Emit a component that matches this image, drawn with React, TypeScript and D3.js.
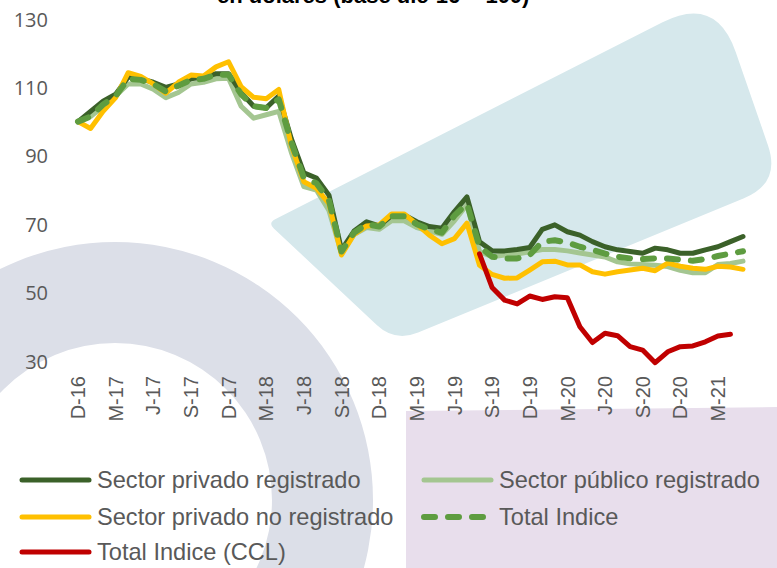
import React from "react";
import * as d3 from "d3";

const categories = [
  "dic-16","ene-17","feb-17","mar-17","abr-17","may-17","jun-17","jul-17","ago-17","sep-17","oct-17","nov-17",
  "dic-17","ene-18","feb-18","mar-18","abr-18","may-18","jun-18","jul-18","ago-18","sep-18","oct-18","nov-18",
  "dic-18","ene-19","feb-19","mar-19","abr-19","may-19","jun-19","jul-19","ago-19","sep-19","oct-19","nov-19",
  "dic-19","ene-20","feb-20","mar-20","abr-20","may-20","jun-20","jul-20","ago-20","sep-20","oct-20","nov-20",
  "dic-20","ene-21","feb-21","mar-21","abr-21","may-21"
];

const tickLabels = ["D-16","M-17","J-17","S-17","D-17","M-18","J-18","S-18","D-18","M-19","J-19","S-19","D-19","M-20","J-20","S-20","D-20","M-21"];
const yTicks = [30, 50, 70, 90, 110, 130];

const privadoRegistrado = [
  100, 103, 106, 108, 113, 112.5, 111.5, 110, 111, 112.5, 113, 114,
  114, 108.5, 104.5, 104, 107.5, 95, 85, 83.5, 78.5, 62.5, 68, 70.7,
  69.5, 72.5, 72.7, 70.7, 69.3, 68.8, 73.7, 78, 64.9, 62.2, 62.2, 62.6,
  63.2, 68.5, 69.8, 67.8, 66.8, 64.9, 63.4, 62.5, 62, 61.5, 63, 62.5,
  61.5, 61.5, 62.5, 63.4, 64.9, 66.4
];

const publicoRegistrado = [
  100, 101.5, 104.5, 107.5, 111, 111, 109.5, 107, 108.5, 111, 111.5, 112.5,
  112.7, 104.5, 101, 102, 103, 91, 81, 80, 74, 61.5, 67, 69,
  68.5, 71, 71, 69, 68, 67, 71, 75.7, 62, 60.5, 61, 61.3,
  61.9, 62.6, 62.6, 62.2, 61.6, 61, 60.4, 59, 58.4, 58.2, 58, 57.6,
  56.5, 55.8, 55.8, 58.2, 58.5, 59.2
];

const privadoNoRegistrado = [
  100, 98, 103, 107, 114.3, 113.2, 111, 108.3, 111.5, 113.6, 113.3, 116,
  117.5, 110.2, 107.1, 106.7, 109.4, 93, 82.4, 80.5, 76, 61, 67, 69.5,
  69.8, 73, 73, 70, 66.8, 64.3, 65.8, 70.3, 58, 55.3, 54.2, 54.3,
  56.6, 59, 59.2, 58.1, 58.1, 56.1, 55.4, 56.1, 56.6, 57.1, 56.4, 58.6,
  57.7, 57.1, 56.8, 57.7, 57.5, 56.8
];

const totalIndice = [
  100, 101.5, 105, 107.5, 112.5, 112.2, 111, 108.8, 110.5, 112.2, 112.5, 113.7,
  113.7, 108, 104.5, 104, 106.5, 94, 83.5, 82, 77, 62, 67.5, 70,
  69.3, 72.3, 72.3, 70, 68.5, 67.5, 72.5, 76, 63.4, 60.5, 60, 60,
  61, 64.9, 65.3, 64.6, 63.4, 62.5, 61.4, 60.5, 60, 59.8, 60, 60,
  59.6, 59.3, 59.8, 60.7, 61.4, 62.1
];

const totalCCL: (number | null)[] = [
  null, null, null, null, null, null, null, null, null, null, null, null,
  null, null, null, null, null, null, null, null, null, null, null, null,
  null, null, null, null, null, null, null, null, 61.3, 51.5, 47.8, 46.7,
  49, 48, 48.8, 48.5, 40, 35.4, 38.1, 37.4, 34.2, 33.2, 29.5, 32.7,
  34.2, 34.4, 35.6, 37.3, 37.8, null
];

const W = 777, H = 568;

function roundedPolygon(pts: [number, number][], radii: number[]) {
  const n = pts.length;
  let d = "";
  for (let i = 0; i < n; i++) {
    const p = pts[i], prev = pts[(i - 1 + n) % n], next = pts[(i + 1) % n];
    const r = radii[i];
    const v1 = [prev[0] - p[0], prev[1] - p[1]];
    const v2 = [next[0] - p[0], next[1] - p[1]];
    const l1 = Math.hypot(v1[0], v1[1]), l2 = Math.hypot(v2[0], v2[1]);
    const a = [p[0] + (v1[0] / l1) * r, p[1] + (v1[1] / l1) * r];
    const b = [p[0] + (v2[0] / l2) * r, p[1] + (v2[1] / l2) * r];
    d += (i === 0 ? "M" : "L") + a[0] + "," + a[1] + "Q" + p[0] + "," + p[1] + " " + b[0] + "," + b[1];
  }
  return d + "Z";
}

function circlePath(cx: number, cy: number, r: number) {
  return `M${cx - r},${cy} A${r},${r} 0 1,0 ${cx + r},${cy} A${r},${r} 0 1,0 ${cx - r},${cy} Z`;
}

export default function App() {
  const x = d3.scaleLinear().domain([0, categories.length - 1]).range([78, 743]);
  const y = d3.scaleLinear().domain([30, 130]).range([361, 19]);

  const mk = (vals: (number | null)[]) =>
    d3.line<number | null>()
      .defined((v) => v !== null)
      .x((_, i) => x(i))
      .y((v) => y(v as number))(vals) || "";

  const ring = circlePath(115, 500, 258) + " " + circlePath(115, 500, 157);

  const blue = roundedPolygon(
    [[268, 223], [395, 342], [781, 183], [716, -5]],
    [8, 25, 40, 60]
  );

  const font = "'Liberation Sans', Arial, sans-serif";
  const gray = "#595959";

  const legendItems = [
    { label: "Sector privado registrado", color: "#3b6129", dash: null, x: 20, y: 480 },
    { label: "Sector público registrado", color: "#a4c691", dash: null, x: 422, y: 480 },
    { label: "Sector privado no registrado", color: "#ffc000", dash: null, x: 20, y: 517 },
    { label: "Total Indice", color: "#5e9c40", dash: "11 13", x: 422, y: 517 },
    { label: "Total Indice (CCL)", color: "#c00000", dash: null, x: 20, y: 552 },
  ];

  return (
    <svg width={W} height={H} style={{ position: "absolute", left: 0, top: 0, background: "#fff" }}>
      {/* decorative background */}
      <path d={ring} fill="#dcdfe8" fillRule="evenodd" />
      <path d={`M406,411 L777,407 L777,568 L406,568 Z`} fill="#e8deec" />
      <path d={blue} fill="#d6e8ec" />

      {/* title (cut off at top, as in the source) */}
      <text x={217} y={3} fontFamily={font} fontWeight="bold" fontSize={22} fill="#000">
        en dólares (base dic-16 = 100)
      </text>

      {/* y axis labels */}
      {yTicks.map((t) => (
        <text key={t} x={48} y={y(t)} textAnchor="end" dominantBaseline="central"
          fontFamily="'Open Sans', sans-serif" fontSize={20} fill={gray}>
          {t}
        </text>
      ))}

      {/* x axis labels */}
      {tickLabels.map((lab, k) => {
        const xi = x(k * 3);
        return (
          <text key={lab} transform={`translate(${xi},376) rotate(-90)`} textAnchor="end" dy="0.36em"
            fontFamily={font} fontSize={20} fill={gray}>
            {lab}
          </text>
        );
      })}

      {/* series */}
      <g fill="none" strokeLinejoin="round" strokeLinecap="round">
        <path d={mk(publicoRegistrado)} stroke="#a4c691" strokeWidth={5} />
        <path d={mk(privadoRegistrado)} stroke="#3b6129" strokeWidth={5} />
        <path d={mk(privadoNoRegistrado)} stroke="#ffc000" strokeWidth={5} />
        <path d={mk(totalIndice)} stroke="#5e9c40" strokeWidth={6} strokeDasharray="11 13" />
        <path d={mk(totalCCL)} stroke="#c00000" strokeWidth={5} />
      </g>

      {/* legend */}
      {legendItems.map((it) => (
        <g key={it.label}>
          <line x1={it.x + 2} x2={it.x + 69} y1={it.y} y2={it.y} stroke={it.color}
            strokeWidth={it.dash ? 6 : 5} strokeLinecap="round"
            strokeDasharray={it.dash || undefined} />
          <text x={it.x + 77} y={it.y} dominantBaseline="central" fontFamily={font}
            fontSize={23.6} fill={gray}>
            {it.label}
          </text>
        </g>
      ))}
    </svg>
  );
}
